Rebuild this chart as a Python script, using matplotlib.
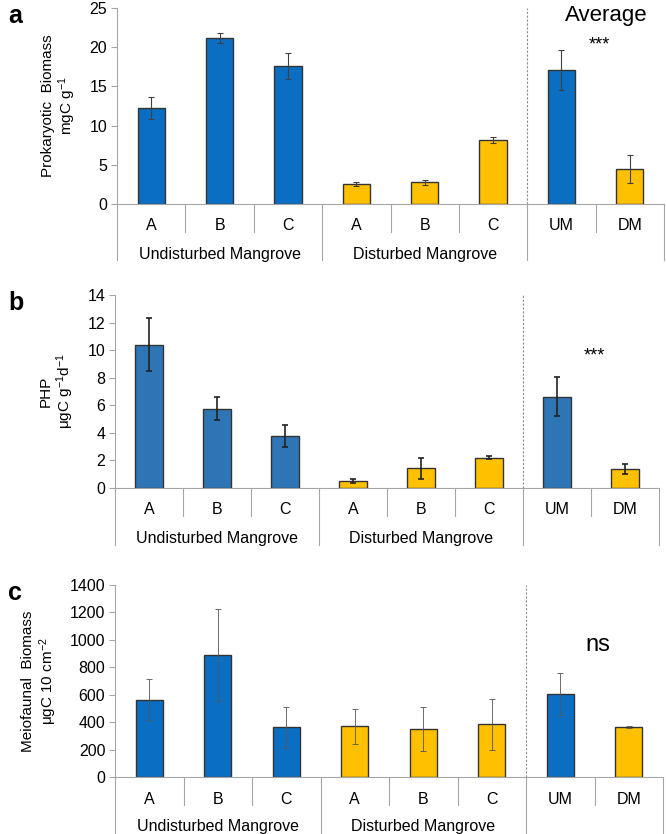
import matplotlib.pyplot as plt
import numpy as np

plt.rcParams['font.family'] = ['Liberation Sans', 'DejaVu Sans']
plt.rcParams['mathtext.fontset'] = 'custom'
plt.rcParams['mathtext.rm'] = 'Liberation Sans'
plt.rcParams['mathtext.default'] = 'regular'
plt.rcParams['axes.unicode_minus'] = False

categories = ["A", "B", "C", "A", "B", "C", "UM", "DM"]
groups = ["Undisturbed Mangrove", "Disturbed Mangrove"]

# panel a: prokaryotic biomass
biomass = [12.25, 21.2, 17.65, 2.55, 2.75, 8.15, 17.05, 4.45]
biomass_err = [1.35, 0.65, 1.65, 0.3, 0.35, 0.4, 2.55, 1.8]

# panel b: PHP
php = [10.4, 5.75, 3.78, 0.5, 1.42, 2.2, 6.62, 1.38]
php_err = [1.9, 0.85, 0.8, 0.17, 0.75, 0.12, 1.4, 0.36]

# panel c: meiofaunal biomass
meio = [565, 891, 361, 370, 353, 383, 606, 363]
meio_err = [146, 336, 148, 127, 161, 183, 154, 8]

BLUE = "#0A6FC2"
BLUE_B = "#2E75B6"
YELLOW = "#FFC000"
GRID = "#A6A6A6"
FS = 11.5

W, H = 666, 834
fig = plt.figure(figsize=(W / 100, H / 100), dpi=100)


def panel(rect, values, errs, blue, ylim, yticks, ylabel, letter, note,
          note_y, note_size, err_lw, err_color, bottom_len, cap=2):
    left, top, right, bottom = rect
    ax = fig.add_axes([left / W, 1 - bottom / H, (right - left) / W, (bottom - top) / H])
    x = np.arange(len(values))
    colors = [blue] * 3 + [YELLOW] * 3 + [blue, YELLOW]
    ax.bar(x, values, width=0.4, color=colors, edgecolor="#333333", linewidth=1.0, zorder=2)
    ax.errorbar(x, values, yerr=errs, fmt="none", ecolor=err_color, elinewidth=err_lw,
                capsize=cap, capthick=err_lw, zorder=3)
    ax.set_xlim(-0.5, len(values) - 0.5)
    ax.set_ylim(*ylim)
    ax.set_yticks(yticks)
    ax.tick_params(axis="y", labelsize=FS, length=4, color=GRID, width=0.8, pad=3)
    ax.set_xticks([])
    for s in ["top", "right"]:
        ax.spines[s].set_visible(False)
    for s in ["left", "bottom"]:
        ax.spines[s].set_color(GRID)
        ax.spines[s].set_linewidth(0.8)
    ax.set_ylabel(ylabel, fontsize=11, labelpad=8, linespacing=1.1)

    h_px = bottom - top
    tr = ax.get_xaxis_transform()
    for i, c in enumerate(categories):
        ax.text(i, -22 / h_px, c, transform=tr, ha="center", va="center", fontsize=FS)
    # short separators between categories
    for xs in [0.5, 1.5, 3.5, 4.5, 6.5]:
        ax.plot([xs, xs], [0, -28 / h_px], transform=tr, color=GRID, lw=0.8, clip_on=False)
    # long separators between groups
    for xs in [-0.5, 2.5, 5.5, 7.5]:
        ax.plot([xs, xs], [0, -bottom_len / h_px], transform=tr, color=GRID, lw=0.8, clip_on=False)
    ax.plot([5.5, 5.5], [0, 1.0], transform=tr, color="#8C8C8C", lw=0.8,
            linestyle=(0, (2, 1.5)), clip_on=False)
    ax.text(1, -50 / h_px, groups[0], transform=tr, ha="center", va="center", fontsize=FS)
    ax.text(4, -50 / h_px, groups[1], transform=tr, ha="center", va="center", fontsize=FS)
    ax.text(6.55, note_y, note, ha="center", va="center", fontsize=note_size)
    fig.text(8 / W, 1 - (top + 8) / H, letter, fontsize=18, fontweight="bold",
             ha="left", va="center")
    return ax


ax_a = panel((117, 8, 664, 204), biomass, biomass_err, BLUE, (0, 25), range(0, 26, 5),
             "Prokaryotic  Biomass\nmgC g$^{-1}$", "a", "***", 20.3, 13,
             0.8, "#404040", 56)
ax_a.text(6.65, 24.0, "Average", ha="center", va="center", fontsize=16, clip_on=False)

panel((115, 295, 659, 488), php, php_err, BLUE_B, (0, 14), range(0, 15, 2),
      "PHP\nμgC g$^{-1}$d$^{-1}$", "b", "***", 9.6, 13, 1.2, "#222222", 57)

panel((115, 585, 663, 777), meio, meio_err, BLUE, (0, 1400), range(0, 1401, 200),
      "Meiofaunal  Biomass\nμgC 10 cm$^{-2}$", "c", "ns", 960, 17, 0.6, "#555555", 60)

fig.savefig("out.png", dpi=100)
